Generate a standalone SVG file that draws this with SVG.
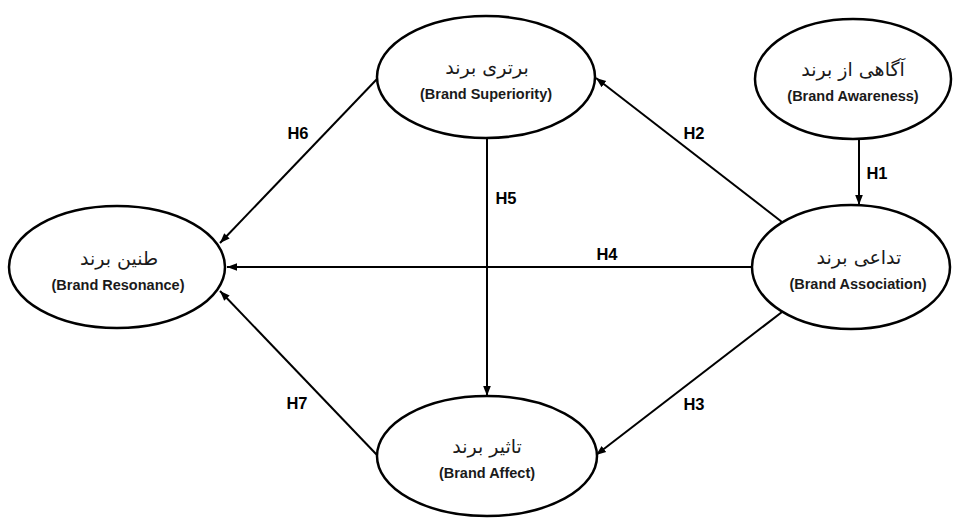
<svg xmlns="http://www.w3.org/2000/svg" width="958" height="518" viewBox="0 0 958 518">
<style>
.node ellipse{fill:#fff;stroke:#000;stroke-width:2.5}
.fa{font-family:"DejaVu Sans","Noto Sans",sans-serif;font-size:19px;fill:#1a1a1a;text-anchor:middle}
.en{font-family:"Liberation Sans",Arial,sans-serif;font-weight:bold;font-size:14.5px;fill:#1a1a1a;text-anchor:middle}
.edge line{stroke:#000;stroke-width:2;marker-end:url(#ah)}
.lbl{font-family:"Liberation Sans",Arial,sans-serif;font-weight:bold;font-size:16.5px;fill:#000;text-anchor:middle}
</style>
<defs>
<marker id="ah" markerUnits="userSpaceOnUse" markerWidth="10" markerHeight="10" viewBox="0 0 10 10" refX="10" refY="5" orient="auto">
<path d="M0,1.2 L10,5 L0,8.8 Z" fill="#000"/>
</marker>
</defs>
<rect width="958" height="518" fill="#fff"/>
<g id="connectors" class="edge">
<line x1="859" y1="139" x2="859" y2="205"/>
<line x1="782" y1="222" x2="596" y2="78"/>
<line x1="782" y1="312" x2="596" y2="455"/>
<line x1="752" y1="267" x2="227" y2="267"/>
<line x1="487" y1="138" x2="487" y2="396"/>
<line x1="377" y1="79" x2="220" y2="243"/>
<line x1="377" y1="455" x2="220" y2="291"/>
</g>
<g id="labels">
<text class="lbl" x="877" y="179">H1</text>
<text class="lbl" x="694" y="139">H2</text>
<text class="lbl" x="694" y="410">H3</text>
<text class="lbl" x="607" y="260">H4</text>
<text class="lbl" x="506" y="204">H5</text>
<text class="lbl" x="298" y="139">H6</text>
<text class="lbl" x="297" y="409">H7</text>
</g>
<g id="superiority" class="node">
<ellipse cx="486" cy="77" rx="109" ry="61"/>
<text class="fa" x="487" y="74">برتری برند</text>
<text class="en" x="486" y="99">(Brand Superiority)</text>
</g>
<g id="awareness" class="node">
<ellipse cx="853" cy="79" rx="98" ry="60"/>
<text class="fa" x="853" y="76">آگاهی از برند</text>
<text class="en" x="853" y="101">(Brand Awareness)</text>
</g>
<g id="resonance" class="node">
<ellipse cx="117" cy="267" rx="108" ry="61"/>
<text class="fa" x="119" y="265">طنین برند</text>
<text class="en" x="118" y="290">(Brand Resonance)</text>
</g>
<g id="association" class="node">
<ellipse cx="851" cy="267" rx="99" ry="62"/>
<text class="fa" x="859" y="264">تداعی برند</text>
<text class="en" x="858" y="289">(Brand Association)</text>
</g>
<g id="affect" class="node">
<ellipse cx="487" cy="456" rx="110" ry="60"/>
<text class="fa" x="487" y="453">تاثیر برند</text>
<text class="en" x="487" y="478">(Brand Affect)</text>
</g>
</svg>
